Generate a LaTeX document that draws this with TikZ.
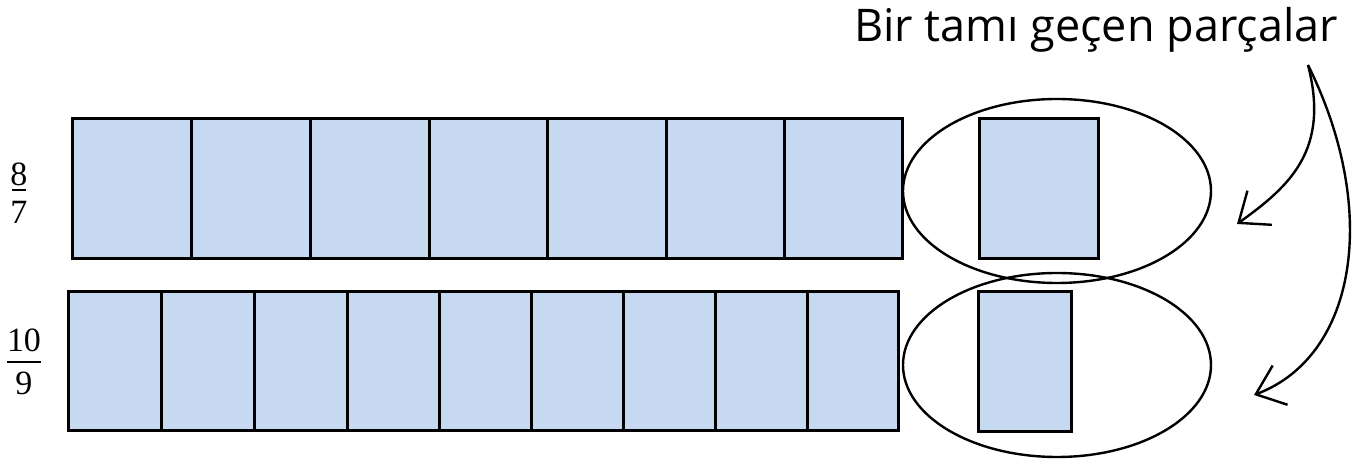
\documentclass[tikz,border=0pt]{standalone}
\usepackage{fontspec}
\setmainfont{Open Sans}
\newfontfamily\serifnum{Liberation Serif}
\usetikzlibrary{arrows.meta}
\definecolor{cellblue}{HTML}{C6D9F0}
\tikzset{
  cell/.style={draw=black, fill=cellblue, line width=1.5pt},
  loop/.style={draw=black, line width=1.2pt},
  pointer/.style={draw=black, line width=1.2pt, -{Straight Barb[length=13pt,width=21pt,line width=1.2pt]}},
  num/.style={font=\serifnum\fontsize{17}{18}\selectfont, inner sep=0pt},
  title/.style={font=\fontsize{22.5}{24}\selectfont, inner sep=0pt, anchor=base}
}
\begin{document}
\begin{tikzpicture}[x=0.5pt,y=-0.5pt]
\useasboundingbox (0,0) rectangle (1357,459);
% title
\node[title] (title) at (1096,42) {Bir tamı geçen parçalar};
% fractions
\node[num] (n1) at (19,174) {8};
\node[num] (d1) at (19,212) {7};
\draw[line width=1pt] (12,190) -- (26,190);
\node[num] (n2) at (24,340) {10};
\node[num] (d2) at (24,383) {9};
\draw[line width=1pt] (7,362) -- (41,362);
% top row: 7 cells
\foreach \a/\b in {72/191,191/310,310/429,429/547,547/666,666/784,784/902}
  \draw[cell] (\a,119) rectangle (\b,259);
\draw[cell] (979,119) rectangle (1098,259);
% bottom row: 9 cells
\foreach \a/\b in {68/161,161/254,254/347,347/439,439/531,531/623,623/715,715/807,807/898}
  \draw[cell] (\a,292) rectangle (\b,431);
\draw[cell] (978,292) rectangle (1071,432);
% ellipses
\draw[loop] (1057,191) ellipse [x radius=154, y radius=92];
\draw[loop] (1057,365) ellipse [x radius=154, y radius=92];
% arrows
\coordinate (s) at (1308,65);
\coordinate (t1) at (1237,224);
\coordinate (t2) at (1254,395);
\draw[pointer] (s) .. controls (1330,150) and (1290,186) .. (t1);
\draw[pointer] (s) .. controls (1380,210) and (1357,356) .. (t2);
\end{tikzpicture}
\end{document}
